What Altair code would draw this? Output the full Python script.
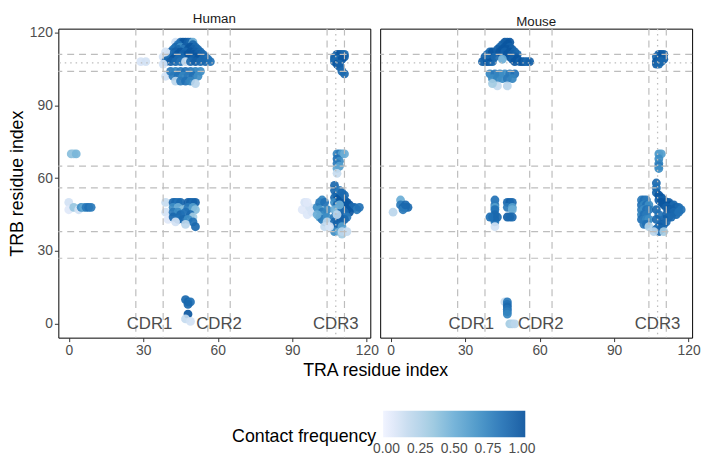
import altair as alt
import pandas as pd

# ---------------- data (TRA index, TRB index, contact frequency) ----------------
human_points = [
    # top "A" cluster (TRA CDR1/CDR2 region vs TRB CDR3)
    (43,116,0.1),(45,116,0.9),(46,116,1.0),(47,116,1.0),(48,116,0.95),(49,116,0.9),(50,116,0.5),
    (44,115,0.85),(50,115,0.9),
    (43,114,0.9),(45,114,0.7),(47,114,0.95),(49,114,1.0),(51,114,0.9),
    (42,113,0.85),(44,113,0.9),(46,113,0.8),(48,113,1.0),(50,113,0.95),(52,113,0.9),
    (41,112,0.9),(43,112,0.95),(45,112,1.0),(47,112,0.9),(49,112,1.0),(51,112,0.95),(53,112,0.9),
    (40,111,0.15),(42,111,0.9),(44,111,1.0),(46,111,0.95),(48,111,1.0),(50,111,1.0),(52,111,0.95),(54,111,0.9),
    (38,110,0.1),(41,110,0.9),(43,110,0.95),(45,110,0.9),(49,110,1.0),(51,110,1.0),(53,110,0.95),(55,110,0.9),
    (40,109,0.85),(42,109,1.0),(44,109,0.9),(50,109,0.95),(52,109,1.0),(54,109,0.9),(56,109,0.85),
    (39,108,0.9),(41,108,0.95),(43,108,0.9),(45,108,0.85),(47,108,0.15),(49,108,0.9),(51,108,0.95),
    (53,108,0.9),(55,108,0.9),(57,108,0.85),
    (29,108,0.08),(31,108,0.1),(39,112,0.1),(38,107,0.1),
    # lower bar
    (39,102,0.1),(41,104,0.8),(43,104,0.75),(45,104,0.8),(47,104,0.85),(49,104,0.8),(51,104,0.75),(53,104,0.7),
    (42,102,0.8),(44,102,0.85),(46,102,0.75),(48,102,0.8),(50,102,0.85),(52,102,0.7),
    (43,100,0.2),(45,100,0.8),(47,100,0.85),(49,100,0.75),(51,99,0.2),
    # TRA CDR3 vs TRB CDR3
    (108,111,0.95),(109,111,1.0),(110,111,0.95),(111,111,0.9),
    (107,110,0.9),(109,110,1.0),(111,110,0.95),
    (107,109,0.95),(108,109,0.9),(110,109,1.0),
    (107,108,0.9),(108,107,1.0),(109,107,0.9),
    (109,106,0.95),(110,104,0.9),(111,103,0.9),
    # TRA CDR3 vs TRB ~65-70
    (108,70,0.75),(109,70,0.8),(110,70,0.6),(111,70,0.5),(108,68,0.85),(109,67,0.7),
    (108,66,0.8),(109,65,0.6),(108,64,0.55),(108,62,0.15),
    # TRA CDR3 vs TRB CDR2 region
    (94,47,0.05),(95,50,0.08),(96,45,0.06),(97,48,0.1),(98,46,0.08),(96,50,0.05),
    (100,48,0.7),(101,50,0.8),(102,51,0.75),(103,50,0.85),(101,47,0.65),(102,46,0.8),(103,45,0.7),
    (104,47,0.75),(101,44,0.6),(102,43,0.8),(103,42,0.75),(104,44,0.7),(100,45,0.5),
    (104,42,0.2),(103,40,0.15),
    (107,57,0.9),(107,55,0.9),(108,53,0.95),(107,52,0.9),(108,51,1.0),(107,50,0.7),(108,49,0.9),
    (107,47,0.5),(108,46,0.4),(107,44,0.8),(107,42,0.9),(108,41,0.95),(108,40,0.9),(107,38,0.7),
    (109,38,0.5),(110,37,0.3),
    (109,52,1.0),(110,52,1.0),(111,51,1.0),(112,50,1.0),(113,49,1.0),(114,48,0.9),(115,48,0.9),
    (116,47,0.8),(117,48,0.85),(110,50,1.0),(111,49,1.0),(112,47,1.0),(113,46,1.0),(110,47,0.9),
    (111,46,0.9),(112,44,0.8),(111,43,0.9),(110,42,0.9),(110,40,0.6),(109,44,0.95),(109,55,0.8),
    (110,54,0.9),(111,53,0.9),(109,49,0.5),
    (108,45,0.2),(110,38,0.2),(112,38,0.15),(105,40,0.1),
    # TRA N-terminus
    (0,50,0.1),(0,47,0.05),(2,48,0.35),(4,47,0.1),(5,48,0.7),(6,48,0.55),(7,48,0.8),(8,48,0.85),(9,48,0.8),
    (1,70,0.4),(2,70,0.35),(3,70,0.45),
    # TRA CDR1/CDR2 vs TRB CDR2 region
    (39,50,0.15),(39,46,0.1),(40,43,0.05),
    (42,50,0.9),(43,50,0.9),(44,50,0.85),(45,50,0.9),(48,50,0.95),(49,50,0.95),(50,50,0.9),(51,50,0.95),
    (42,48,0.7),(44,48,0.5),(46,47,0.4),(48,48,0.8),(50,48,0.6),(51,47,0.4),
    (42,46,0.8),(44,46,0.7),(45,45,0.9),(47,46,0.85),(49,45,0.9),(50,44,0.3),
    (42,44,0.9),(44,43,0.85),(46,43,0.9),(48,43,0.7),(50,42,0.85),(51,40,0.9),
    (43,42,0.1),(47,41,0.2),
    # TRB N-terminus
    (47,10,0.9),(48,9,0.9),(49,9,0.85),(48,8,0.9),(48,4,1.0),(47,2,0.15),(49,1,0.1),
]

mouse_points = [
    (37,108,0.95),(38,108,0.9),(39,108,1.0),(40,108,0.95),(41,108,0.9),(38,110,0.95),(40,110,1.0),
    (39,111,0.9),(41,111,0.95),(40,112,0.9),(41,112,1.0),(42,110,0.9),
    (46,116,1.0),(47,116,0.95),(48,116,1.0),(45,115,0.95),(47,115,1.0),(44,114,0.9),(46,114,1.0),
    (48,114,0.95),(43,113,0.95),(45,113,1.0),(47,113,1.0),(49,113,0.95),(44,112,1.0),(46,112,0.95),
    (48,112,1.0),(50,112,0.9),(47,111,1.0),(49,111,0.95),(51,111,0.9),(48,110,1.0),(50,110,0.95),
    (45,109,0.5),(49,109,0.95),(51,109,1.0),(50,108,1.0),(52,108,0.95),(53,108,1.0),(54,108,0.95),
    (55,108,0.9),(56,108,0.95),
    (40,103,0.75),(42,103,0.8),(44,103,0.75),(46,103,0.7),(48,103,0.8),(50,103,0.85),
    (41,101,0.7),(43,101,0.75),(45,101,0.7),(47,101,0.8),(49,101,0.75),(43,98,0.15),(47,98,0.2),(41,99,0.3),
    (108,111,0.95),(109,111,1.0),(110,111,0.95),(107,110,0.9),(109,110,1.0),(110,109,0.95),
    (107,108,1.0),(108,108,0.95),(109,108,0.9),(107,107,0.95),(108,107,0.9),
    (108,70,0.65),(109,70,0.6),(108,68,0.7),(108,66,0.75),(108,65,0.8),(108,64,0.7),
    (101,51,0.8),(102,51,0.85),(103,51,0.8),(101,49,0.85),(102,49,0.75),(103,49,0.85),(104,49,0.7),
    (101,47,0.8),(102,47,0.7),(103,47,0.85),(104,47,0.8),(101,45,0.75),(102,45,0.85),(103,45,0.8),
    (101,43,0.85),(102,43,0.8),(103,43,0.75),(104,43,0.7),(102,41,0.8),(103,41,0.85),(104,40,0.25),
    (107,58,0.9),(107,56,0.85),(107,54,0.9),(108,53,1.0),(109,52,1.0),(110,51,0.95),(111,50,1.0),
    (112,50,0.95),(113,49,1.0),(114,49,0.9),(115,48,0.95),(116,48,0.9),(117,47,0.85),(108,51,0.95),
    (109,50,1.0),(110,49,1.0),(111,48,0.95),(112,47,1.0),(113,47,0.95),(114,46,0.9),(115,45,0.9),
    (116,46,0.85),(111,45,0.95),(112,44,0.9),(113,44,0.9),(110,43,0.95),(111,42,0.9),(109,41,0.95),
    (110,41,0.9),(108,40,0.95),(107,39,0.85),(108,38,0.9),(109,39,0.9),(106,38,0.2),(110,38,0.3),
    (107,47,0.9),(108,45,0.85),(107,43,0.9),
    (4,51,0.5),(4,49,0.8),(5,48,0.9),(6,48,0.85),(7,48,0.9),(5,47,0.8),(6,49,0.9),(1,46,0.2),
    (42,51,0.85),(42,49,0.8),(42,48,0.6),(42,47,0.85),(42,45,0.9),(42,43,0.95),(42,42,0.8),
    (41,44,0.9),(40,44,0.85),(43,44,0.9),(42,40,0.1),
    (47,50,0.9),(48,50,0.95),(49,50,0.9),(47,48,0.8),(49,48,0.6),(49,47,0.5),(47,44,0.95),
    (48,44,0.9),(49,44,0.9),
    (46,9,0.15),(47,9,0.8),(47,8,0.85),(47,7,0.9),(47,6,0.85),(47,5,0.8),(47,4,0.75),
    (48,0,0.3),(49,0,0.25),(50,0,0.2),
]

dashed_lines = [27, 38, 56, 65, 104, 111]
dotted_lines = [107.5]
cdr_names = ["CDR1", "CDR2", "CDR3"]
cdr_centers = [32.5, 60.5, 107.5]
x_ticks = [0, 30, 60, 90, 120]
y_ticks = [0, 30, 60, 90, 120]
legend_values = [0, 0.25, 0.5, 0.75, 1]
blues = ["#eff3ff", "#c6dbef", "#9ecae1", "#6baed6", "#4292c6", "#2171b5", "#08519c"]

W, H = 316, 313
SPACING = 10
FONT = "Liberation Sans"
LINE_COLOR = "#bdbdbd"
TICK_FONT = 14
TITLE_FONT = 18

xs = alt.Scale(domain=[-4.2, 121.4], nice=False, zero=False)
ys = alt.Scale(domain=[-5.7, 121.6], nice=False, zero=False)
cs = alt.Scale(domain=[-0.025, 1.025], range=blues)


def panel(name, pts, first):
    df = pd.DataFrame(pts, columns=["tra", "trb", "freq"])
    common = dict(grid=False, domain=False, labelFontSize=TICK_FONT, labelColor="#4d4d4d",
                  tickColor="#333333", tickSize=4, labelPadding=2, labelFont=FONT,
                  titleFont=FONT)
    if first:
        xaxis = alt.Axis(values=x_ticks, title="TRA residue index", titleX=W + SPACING / 2,
                         titleFontSize=TITLE_FONT, titleFontWeight="normal", titleColor="black",
                         titlePadding=4, **common)
        yaxis = alt.Axis(values=y_ticks, title="TRB residue index", titleFontSize=TITLE_FONT,
                         titleFontWeight="normal", titleColor="black", titlePadding=3, **common)
        legend = alt.Legend(orient="none", legendX=176, legendY=387, direction="horizontal",
                            titleOrient="left", title="Contact frequency", gradientLength=144,
                            gradientThickness=27, values=legend_values, format=".2f",
                            labelFontSize=TICK_FONT, labelColor="#4d4d4d", titleFontSize=TITLE_FONT,
                            titleFontWeight="normal", titleColor="black", titleAnchor="end",
                            titleBaseline="middle", titlePadding=6, labelAlign="center",
                            labelOverlap=False, labelOffset=5, gradientStrokeWidth=0, padding=0,
                            labelFont=FONT, titleFont=FONT)
    else:
        xaxis = alt.Axis(values=x_ticks, title=None, **common)
        yaxis = None
        legend = None

    pts_layer = alt.Chart(df).mark_circle(size=80, opacity=0.92).encode(
        x=alt.X("tra:Q", scale=xs, axis=xaxis),
        y=alt.Y("trb:Q", scale=ys, axis=yaxis),
        color=alt.Color("freq:Q", scale=cs, legend=legend),
    )
    vdash = alt.Chart(pd.DataFrame({"tra": dashed_lines})).mark_rule(
        color=LINE_COLOR, strokeWidth=1.2, strokeDash=[7, 5]).encode(x=alt.X("tra:Q", scale=xs))
    hdash = alt.Chart(pd.DataFrame({"trb": dashed_lines})).mark_rule(
        color=LINE_COLOR, strokeWidth=1.2, strokeDash=[7, 5]).encode(y=alt.Y("trb:Q", scale=ys))
    vdot = alt.Chart(pd.DataFrame({"tra": dotted_lines})).mark_rule(
        color=LINE_COLOR, strokeWidth=1.3, strokeDash=[1.5, 4]).encode(x=alt.X("tra:Q", scale=xs))
    hdot = alt.Chart(pd.DataFrame({"trb": dotted_lines})).mark_rule(
        color=LINE_COLOR, strokeWidth=1.3, strokeDash=[1.5, 4]).encode(y=alt.Y("trb:Q", scale=ys))
    labels = alt.Chart(pd.DataFrame({"tra": cdr_centers, "trb": [0, 0, 0], "name": cdr_names})).mark_text(
        fontSize=17, color="#4d4d4d", baseline="middle", align="center", font=FONT).encode(
        x=alt.X("tra:Q", scale=xs), y=alt.Y("trb:Q", scale=ys), text="name:N")

    return alt.layer(pts_layer, vdash, hdash, vdot, hdot, labels).properties(
        width=W, height=H,
        title=alt.TitleParams(name, fontSize=13.5, fontWeight="normal", color="#1a1a1a",
                              offset=0, anchor="middle", font=FONT),
    )


chart = alt.hconcat(
    panel("Human", human_points, True),
    panel("Mouse", mouse_points, False),
    spacing=SPACING, bounds="flush",
).resolve_scale(color="shared").properties(
    padding={"left": 0, "top": 0, "right": 0, "bottom": 0}
).configure_view(stroke="black", strokeWidth=1).configure_text(font=FONT)

chart.save("out.html", embed_options={"renderer": "svg", "actions": False})
